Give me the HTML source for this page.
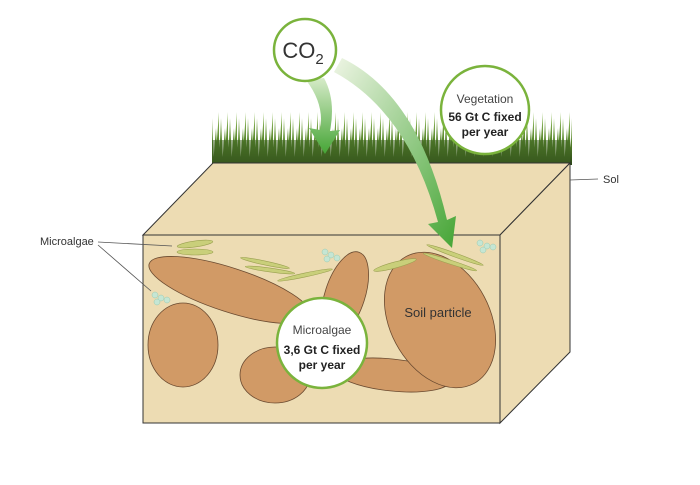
<!DOCTYPE html>
<html><head><style>body{margin:0;background:#fff}svg{display:block}</style></head><body>
<svg width="700" height="485" viewBox="0 0 700 485" font-family="Liberation Sans, sans-serif">
<defs>
<linearGradient id="g1" x1="0" y1="0" x2="0" y2="1"><stop offset="0" stop-color="#d6ebc8"/><stop offset="1" stop-color="#45a535"/></linearGradient>
<linearGradient id="g2" x1="0" y1="0" x2="1" y2="1"><stop offset="0" stop-color="#eef5e4"/><stop offset="1" stop-color="#45a535"/></linearGradient>
<linearGradient id="gr" x1="0" y1="0" x2="0" y2="1"><stop offset="0" stop-color="#9cc46a"/><stop offset="0.5" stop-color="#5b8a2e"/><stop offset="1" stop-color="#2c4718"/></linearGradient>
<pattern id="gp" x="210" y="110" width="9" height="55" patternUnits="userSpaceOnUse">
<path d="M0,55 L2,8 L4,55 Z M3,55 L6,18 L8,55 Z M5,55 L9,2 L9,55 Z M0,55 L-1,14 L2,55Z" fill="url(#gr)"/>
</pattern>
</defs>
<!-- grass -->
<rect x="212" y="110" width="360" height="55" fill="url(#gp)"/>
<rect x="212" y="140" width="358" height="24" fill="#3f6523" opacity="0.55"/>
<!-- box -->
<polygon points="143,235 213,163 570,163 500,235" fill="#eddcb3" stroke="#333" stroke-width="1"/>
<polygon points="500,235 570,163 570,352 500,423" fill="#eddcb3" stroke="#333" stroke-width="1"/>
<rect x="143" y="235" width="357" height="188" fill="#eddcb3" stroke="#333" stroke-width="1"/>
<g fill="#d19a66" stroke="#6a4a30" stroke-width="0.8">
<ellipse cx="230" cy="290" rx="85" ry="22" transform="rotate(18 230 290)"/>
<ellipse cx="183" cy="345" rx="35" ry="42"/>
<ellipse cx="345" cy="295" rx="20" ry="45" transform="rotate(18 345 295)"/>
<ellipse cx="275" cy="375" rx="35" ry="28"/>
<ellipse cx="392" cy="375" rx="58" ry="16" transform="rotate(6 392 375)"/>
<ellipse cx="440" cy="320" rx="50" ry="72" transform="rotate(-28 440 320)"/>
</g>
<text x="438" y="317" font-size="13" fill="#333" text-anchor="middle">Soil particle</text>
<!-- algae -->
<g fill="#c9cf7a" stroke="#9aa050" stroke-width="0.6">
<ellipse cx="195" cy="244" rx="18" ry="3" transform="rotate(-8 195 244)"/>
<ellipse cx="195" cy="252" rx="18" ry="3"/>
<ellipse cx="265" cy="263" rx="25" ry="2" transform="rotate(12 265 263)"/>
<ellipse cx="270" cy="270" rx="25" ry="2" transform="rotate(8 270 270)"/>
<ellipse cx="305" cy="275" rx="28" ry="2" transform="rotate(-12 305 275)"/>
<ellipse cx="395" cy="265" rx="22" ry="3" transform="rotate(-15 395 265)"/>
<ellipse cx="455" cy="255" rx="30" ry="2" transform="rotate(20 455 255)"/>
<ellipse cx="450" cy="262" rx="28" ry="2" transform="rotate(18 450 262)"/>
</g>
<g fill="#c5e6d4" stroke="#9cc9b0" stroke-width="0.5">
<circle cx="325" cy="252" r="3"/><circle cx="331" cy="255" r="3"/><circle cx="327" cy="259" r="3"/><circle cx="337" cy="258" r="3"/>
<circle cx="155" cy="295" r="3"/><circle cx="161" cy="298" r="3"/><circle cx="157" cy="302" r="3"/><circle cx="167" cy="300" r="3"/>
<circle cx="480" cy="243" r="3"/><circle cx="487" cy="246" r="3"/><circle cx="483" cy="250" r="3"/><circle cx="493" cy="247" r="3"/>
</g>
<!-- arrows -->
<path d="M306,80 Q325,105 320,130 L309,128 L325,154 L340,130 L330,131 Q336,100 324,78 Z" fill="url(#g1)"/>
<path d="M334,72 Q408,112 438,222 L428,224 L452,248 L456,216 L447,220 Q418,95 342,58 Z" fill="url(#g2)"/>
<!-- circles -->
<circle cx="305" cy="50" r="31" fill="#fff" stroke="#7ab33c" stroke-width="2.5"/>
<text x="303" y="58" font-size="22" fill="#333" text-anchor="middle">CO<tspan font-size="15" dy="6">2</tspan></text>
<circle cx="485" cy="110" r="44" fill="#fff" stroke="#7ab33c" stroke-width="2.5"/>
<text x="485" y="103" font-size="12" fill="#444" text-anchor="middle">Vegetation</text>
<text x="485" y="121" font-size="12" font-weight="bold" fill="#222" text-anchor="middle">56 Gt C fixed</text>
<text x="485" y="136" font-size="12" font-weight="bold" fill="#222" text-anchor="middle">per year</text>
<circle cx="322" cy="343" r="45" fill="#fff" stroke="#7ab33c" stroke-width="2.5"/>
<text x="322" y="334" font-size="12" fill="#444" text-anchor="middle">Microalgae</text>
<text x="322" y="354" font-size="12" font-weight="bold" fill="#222" text-anchor="middle">3,6 Gt C fixed</text>
<text x="322" y="369" font-size="12" font-weight="bold" fill="#222" text-anchor="middle">per year</text>
<!-- labels -->
<text x="40" y="245" font-size="11" fill="#333">Microalgae</text>
<line x1="98" y1="242" x2="172" y2="246" stroke="#555" stroke-width="0.8"/>
<line x1="98" y1="245" x2="151" y2="291" stroke="#555" stroke-width="0.8"/>
<line x1="570" y1="180" x2="598" y2="179" stroke="#555" stroke-width="0.8"/>
<text x="603" y="183" font-size="11" fill="#333">Sol</text>
</svg>
</body></html>
